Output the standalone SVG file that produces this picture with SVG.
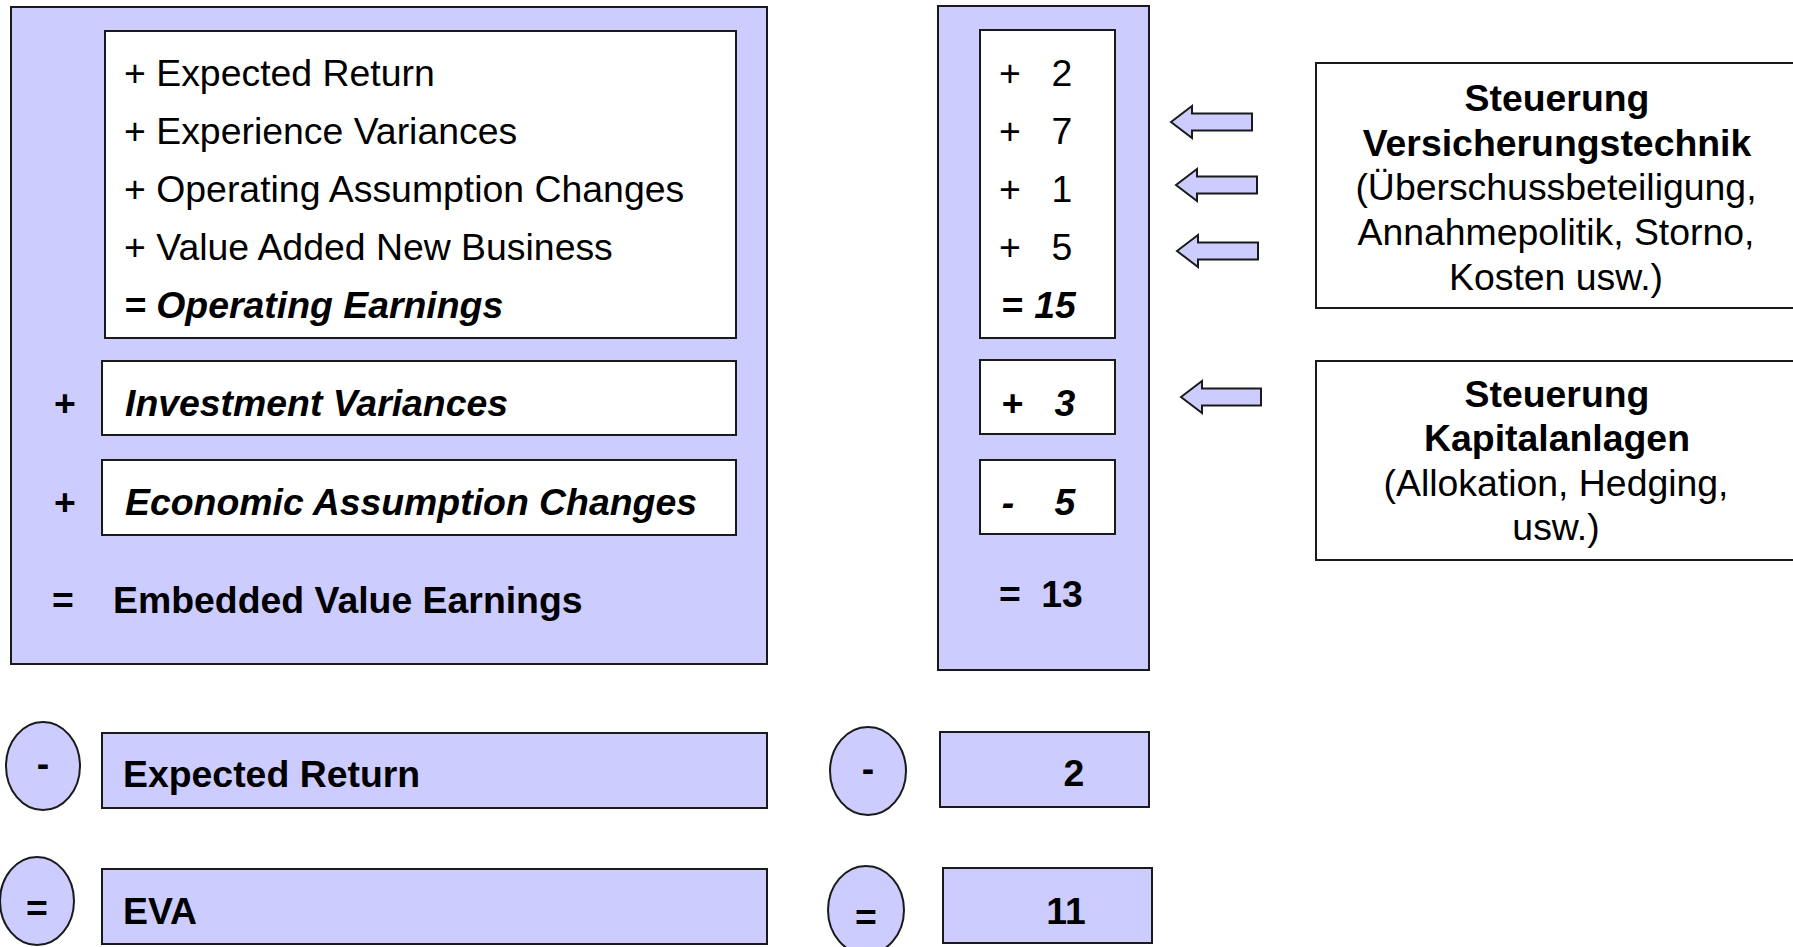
<svg xmlns="http://www.w3.org/2000/svg" width="1793" height="947" viewBox="0 0 1793 947">
<style>
text{font-family:"Liberation Sans",Arial,sans-serif;font-size:37.4px;fill:#000}
.b{font-weight:bold}
.bi{font-weight:bold;font-style:italic}
.c{text-anchor:middle}
.p{fill:#ccccff;stroke:#1a1a1a;stroke-width:2}
.w{fill:#fff;stroke:#1a1a1a;stroke-width:2}
.ar{fill:#ccccff;stroke:#1a1a1a;stroke-width:2;stroke-linejoin:miter}
</style>
<rect width="1793" height="947" fill="#fff"/>
<g id="left-panel">
<rect class="p" x="11" y="7" width="756" height="657"/>
</g>
<g id="operating-box">
<rect class="w" x="105" y="31" width="631" height="307"/>
<text x="124" y="85.5">+ Expected Return</text>
<text x="124" y="143.5">+ Experience Variances</text>
<text x="124" y="201.5">+ Operating Assumption Changes</text>
<text x="124" y="259.5">+ Value Added New Business</text>
<text class="bi" x="124" y="317.5">= Operating Earnings</text>
</g>
<g id="investment-variances">
<text class="b c" x="65" y="416">+</text>
<rect class="w" x="102" y="361" width="634" height="74"/>
<text class="bi" x="125" y="416">Investment Variances</text>
</g>
<g id="economic-assumption">
<text class="b c" x="65" y="515">+</text>
<rect class="w" x="102" y="460" width="634" height="75"/>
<text class="bi" x="125" y="515">Economic Assumption Changes</text>
</g>
<g id="embedded-value">
<text class="b c" x="63" y="613">=</text>
<text class="b" x="113" y="613">Embedded Value Earnings</text>
</g>
<g id="mid-panel">
<rect class="p" x="938" y="6" width="211" height="664"/>
</g>
<g id="mid-operating">
<rect class="w" x="980" y="30" width="135" height="308"/>
<text class="c" x="1010" y="85.5">+</text><text class="c" x="1062" y="85.5">2</text>
<text class="c" x="1010" y="143.5">+</text><text class="c" x="1062" y="143.5">7</text>
<text class="c" x="1010" y="201.5">+</text><text class="c" x="1062" y="201.5">1</text>
<text class="c" x="1010" y="259.5">+</text><text class="c" x="1062" y="259.5">5</text>
<text class="bi c" x="1012" y="317.5">=</text><text class="bi c" x="1055" y="317.5">15</text>
</g>
<g id="mid-investment">
<rect class="w" x="980" y="360" width="135" height="74"/>
<text class="bi c" x="1012" y="416">+</text><text class="bi c" x="1065" y="416">3</text>
</g>
<g id="mid-economic">
<rect class="w" x="980" y="460" width="135" height="74"/>
<text class="bi c" x="1008" y="515">-</text><text class="bi c" x="1065" y="515">5</text>
</g>
<g id="mid-embedded">
<text class="b c" x="1010" y="607">=</text><text class="b c" x="1062" y="607">13</text>
</g>
<g id="minus-left">
<ellipse class="p" cx="43" cy="766" rx="37" ry="44"/>
<text class="b c" x="43" y="776">-</text>
</g>
<g id="expected-return-box">
<rect class="p" x="102" y="733" width="665" height="75"/>
<text class="b" x="123" y="787">Expected Return</text>
</g>
<g id="equals-left">
<ellipse class="p" cx="37" cy="901" rx="37" ry="44"/>
<text class="b c" x="37" y="921">=</text>
</g>
<g id="eva-box">
<rect class="p" x="102" y="869" width="665" height="75"/>
<text class="b" x="123" y="924">EVA</text>
</g>
<g id="minus-mid">
<ellipse class="p" cx="868" cy="771" rx="38" ry="44"/>
<text class="b c" x="868" y="781">-</text>
</g>
<g id="value-2">
<rect class="p" x="940" y="732" width="209" height="75"/>
<text class="b c" x="1074" y="786">2</text>
</g>
<g id="equals-mid">
<ellipse class="p" cx="866" cy="910" rx="38" ry="44"/>
<text class="b c" x="866" y="930">=</text>
</g>
<g id="value-11">
<rect class="p" x="943" y="868" width="209" height="75"/>
<text class="b c" x="1066" y="924">11</text>
</g>
<g id="connectors">
<polygon class="ar" points="1171,122 1192,106 1192,113.5 1252,113.5 1252,130.5 1192,130.5 1192,138"/>
<polygon class="ar" points="1176,185 1197,169 1197,176.5 1257,176.5 1257,193.5 1197,193.5 1197,201"/>
<polygon class="ar" points="1177,251 1198,235 1198,242.5 1258,242.5 1258,259.5 1198,259.5 1198,267"/>
<polygon class="ar" points="1181,397 1202,381 1202,388.5 1261,388.5 1261,405.5 1202,405.5 1202,413"/>
</g>
<g id="steuerung-versicherungstechnik">
<rect class="w" x="1316" y="63" width="482" height="245"/>
<text class="b c" x="1557" y="111">Steuerung</text>
<text class="b c" x="1557" y="156">Versicherungstechnik</text>
<text class="c" x="1556" y="200">(Überschussbeteiligung,</text>
<text class="c" x="1556" y="245">Annahmepolitik, Storno,</text>
<text class="c" x="1556" y="290">Kosten usw.)</text>
</g>
<g id="steuerung-kapitalanlagen">
<rect class="w" x="1316" y="361" width="482" height="199"/>
<text class="b c" x="1557" y="407">Steuerung</text>
<text class="b c" x="1557" y="451">Kapitalanlagen</text>
<text class="c" x="1556" y="496">(Allokation, Hedging,</text>
<text class="c" x="1556" y="540">usw.)</text>
</g>
</svg>
